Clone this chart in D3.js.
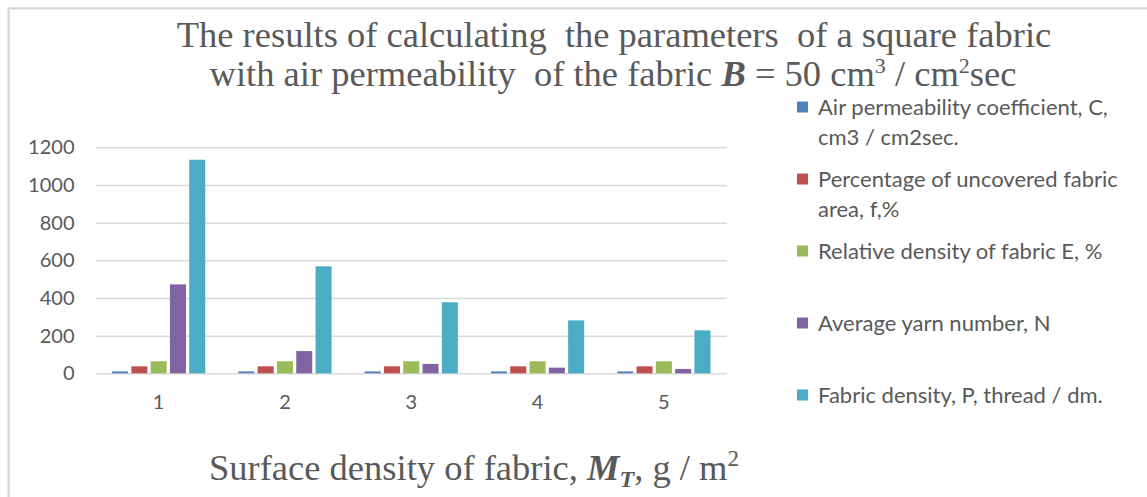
<!DOCTYPE html>
<html>
<head>
<meta charset="utf-8">
<script src="https://cdn.jsdelivr.net/npm/d3@7"></script>
<style>
  html, body { margin: 0; padding: 0; background: #fff; }
  svg { display: block; }
  .grid line { stroke: #d9d9d9; stroke-width: 1.5; }
  .grid .domain { display: none; }
  text { fill: #595959; }
</style>
</head>
<body>
<svg id="chart"></svg>
<script>
const categories = ["1", "2", "3", "4", "5"];
const seriesNames = [
    "Air permeability coefficient, C, cm3 / cm2sec.",
    "Percentage of uncovered fabric area, f,%",
    "Relative density of fabric E, %",
    "Average yarn number, N",
    "Fabric density, P, thread / dm."
];
const airPermCoef = [10, 10, 10, 10, 10];
const uncoveredArea = [37, 37, 37, 37, 37];
const relativeDensity = [64, 64, 64, 64, 64];
const yarnNumber = [472, 118, 50, 30, 23];
const fabricDensity = [1134, 568, 377, 281, 228];
const yTicks = [0, 200, 400, 600, 800, 1000, 1200];
const colors = ["#4f81bd", "#c0504d", "#9bbb59", "#8064a2", "#4bacc6"];

const seriesValues = [airPermCoef, uncoveredArea, relativeDensity, yarnNumber, fabricDensity];

const width = 1147, height = 497;
const margin = { top: 147.3, right: 420, bottom: 123.7, left: 95.5 };

const svg = d3.select("#chart")
    .attr("width", width)
    .attr("height", height)
    .attr("viewBox", [0, 0, width, height]);

// chart frame (runs off the right and bottom edges)
svg.append("rect")
    .attr("x", 8.6)
    .attr("y", 8.4)
    .attr("width", width + 20)
    .attr("height", height + 20)
    .attr("fill", "none")
    .attr("stroke", "#d9d9d9")
    .attr("stroke-width", 2.4);

const x0 = d3.scaleBand()
    .domain(categories)
    .range([margin.left, width - margin.right])
    .paddingInner(0.262)
    .paddingOuter(0.131);

const x1 = d3.scaleBand()
    .domain(d3.range(seriesNames.length))
    .range([0, x0.bandwidth()])
    .paddingInner(0.17);

const y = d3.scaleLinear()
    .domain([0, 1200])
    .range([height - margin.bottom, margin.top]);

// gridlines + y labels
const yAxis = svg.append("g")
    .attr("class", "grid")
    .attr("transform", `translate(${ margin.left },0)`)
    .call(d3.axisLeft(y)
        .tickValues(yTicks)
        .tickFormat(d3.format("d"))
        .tickSize(-(width - margin.left - margin.right))
        .tickPadding(21));
yAxis.selectAll("text")
    .style("font-family", "Lato, sans-serif")
    .style("font-size", "20px")
    .attr("fill", "#595959");

// bars
const groups = svg.append("g")
    .selectAll("g")
    .data(categories)
    .join("g")
    .attr("transform", d => `translate(${ x0(d) },0)`);

groups.selectAll("rect")
    .data((d, i) => seriesValues.map((vals, s) => ({ s, v: vals[i] })))
    .join("rect")
    .attr("x", d => x1(d.s))
    .attr("width", x1.bandwidth())
    .attr("y", d => y(d.v))
    .attr("height", d => y(0) - y(d.v))
    .attr("fill", d => colors[d.s]);

// x labels
const xAxis = svg.append("g")
    .attr("class", "grid")
    .attr("transform", `translate(0,${ y(0) })`)
    .call(d3.axisBottom(x0).tickSize(0).tickPadding(22));
xAxis.selectAll("text")
    .style("font-family", "Lato, sans-serif")
    .style("font-size", "20px")
    .attr("fill", "#595959");

// title
const title = svg.append("text")
    .attr("text-anchor", "middle")
    .style("font-family", "'Liberation Serif', 'Times New Roman', serif")
    .style("font-size", "36.5px")
    .style("white-space", "pre");
title.append("tspan")
    .attr("x", 614).attr("y", 47)
    .text("The results of calculating  the parameters  of a square fabric");
const t2 = title.append("tspan").attr("x", 613).attr("y", 86);
t2.append("tspan").text("with air permeability  of the fabric ");
t2.append("tspan").style("font-weight", "bold").style("font-style", "italic").text("B");
t2.append("tspan").text(" = 50 cm");
t2.append("tspan").attr("dy", -13).style("font-size", "22px").text("3");
t2.append("tspan").attr("dy", 13).text(" / cm");
t2.append("tspan").attr("dy", -13).style("font-size", "22px").text("2");
t2.append("tspan").attr("dy", 13).text("sec");

// x axis title
const xt = svg.append("text")
    .attr("x", 474)
    .attr("y", 480)
    .attr("text-anchor", "middle")
    .style("font-family", "'Liberation Serif', 'Times New Roman', serif")
    .style("font-size", "36.5px");
xt.append("tspan").text("Surface density of fabric, ");
xt.append("tspan").style("font-weight", "bold").style("font-style", "italic").text("M");
xt.append("tspan").attr("dy", 7).style("font-weight", "bold").style("font-style", "italic")
    .style("font-size", "24px").text("T");
xt.append("tspan").attr("dy", -7).text(", g / m");
xt.append("tspan").attr("dy", -14).style("font-size", "23px").text("2");

// legend
const legend = svg.append("g").attr("transform", "translate(797,0)");
const legendFont = 22;
const maxLine = 304;

const item = legend.selectAll("g")
    .data(seriesNames)
    .join("g")
    .attr("transform", (d, i) => `translate(0,${ 107 + i * 72 })`);

item.append("rect")
    .attr("x", 0)
    .attr("y", -5.5)
    .attr("width", 11)
    .attr("height", 11)
    .attr("fill", (d, i) => colors[i]);

item.each(function (name) {
    const g = d3.select(this);
    const txt = g.append("text")
        .attr("x", 21)
        .attr("y", 0)
        .style("font-family", "Lato, sans-serif")
        .style("font-size", legendFont + "px");
    const words = name.split(" ");
    let line = [];
    let lineNo = 0;
    let tspan = txt.append("tspan").attr("x", 21).attr("y", 0).attr("dy", "0.35em");
    for (const w of words) {
        line.push(w);
        tspan.text(line.join(" "));
        if (tspan.node().getComputedTextLength() > maxLine && line.length > 1) {
            line.pop();
            tspan.text(line.join(" "));
            line = [w];
            lineNo++;
            tspan = txt.append("tspan").attr("x", 21).attr("y", lineNo * 30).attr("dy", "0.35em").text(w);
        }
    }
});
</script>
</body>
</html>
